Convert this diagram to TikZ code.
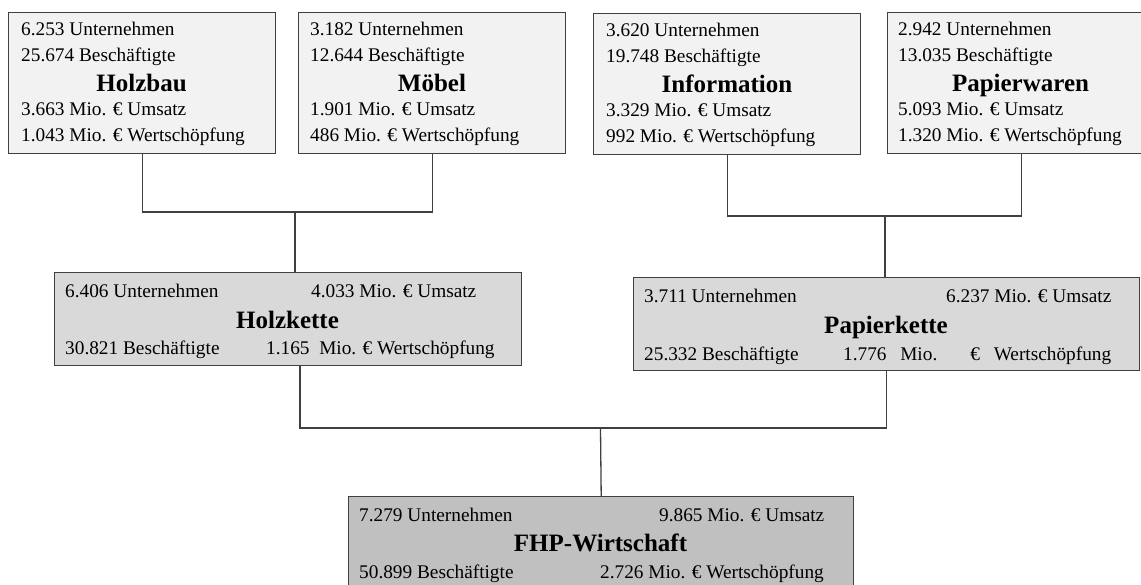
\documentclass[tikz,border=0pt]{standalone}
\usepackage{fontspec}
\setmainfont{Liberation Serif}

\definecolor{boxline}{HTML}{404040}
\definecolor{lightfill}{HTML}{F2F2F2}
\definecolor{midfill}{HTML}{D9D9D9}
\definecolor{darkfill}{HTML}{C0C0C0}

\tikzset{
  box/.style={draw=boxline, line width=1.4pt, inner sep=0pt, anchor=north west},
  topbox/.style={box, fill=lightfill, minimum width=267pt, minimum height=141pt},
  chainbox/.style={box, fill=midfill, minimum height=93pt},
  link/.style={draw=boxline, line width=1.3pt},
  txt/.style={font=\fontsize{19.3pt}{23pt}\selectfont, inner sep=0pt, anchor=base west},
  title/.style={font=\fontsize{25pt}{30pt}\selectfont\bfseries, inner sep=0pt, anchor=base}
}

\begin{document}
\begin{tikzpicture}[x=1pt, y=-1pt]
\clip (0,0) rectangle (1141,585);
\fill[white] (0,0) rectangle (1141,585);

% top row
\node[topbox] (holzbau) at (8,12) {};
\node[topbox] (moebel) at (298,12) {};
\node[topbox] (information) at (593,13) {};
\node[topbox] (papierwaren) at (887,12) {};

\node[txt] (hb1) at (21,35.5) {6.253 Unternehmen};
\node[txt] (hb2) at (21,61.5) {25.674 Beschäftigte};
\node[title] (hbt) at (141.5,91.5) {Holzbau};
\node[txt] (hb3) at (21,115.5) {3.663 Mio. € Umsatz};
\node[txt] (hb4) at (21,141.5) {1.043 Mio. € Wertschöpfung};

\node[txt] (mb1) at (310,35.5) {3.182 Unternehmen};
\node[txt] (mb2) at (310,61.5) {12.644 Beschäftigte};
\node[title] (mbt) at (432,91.5) {Möbel};
\node[txt] (mb3) at (310,115.5) {1.901 Mio. € Umsatz};
\node[txt] (mb4) at (310,141.5) {486 Mio. € Wertschöpfung};

\node[txt] (in1) at (606,36.5) {3.620 Unternehmen};
\node[txt] (in2) at (606,62.5) {19.748 Beschäftigte};
\node[title] (int) at (727,92.5) {Information};
\node[txt] (in3) at (606,116.5) {3.329 Mio. € Umsatz};
\node[txt] (in4) at (606,142.5) {992 Mio. € Wertschöpfung};

\node[txt] (pw1) at (898,35.5) {2.942 Unternehmen};
\node[txt] (pw2) at (898,61.5) {13.035 Beschäftigte};
\node[title] (pwt) at (1020.5,91.5) {Papierwaren};
\node[txt] (pw3) at (898,115.5) {5.093 Mio. € Umsatz};
\node[txt] (pw4) at (898,141.5) {1.320 Mio. € Wertschöpfung};

% chains
\node[chainbox, minimum width=467pt] (holzkette) at (54,272) {};
\node[chainbox, minimum width=506pt] (papierkette) at (633,277) {};

\node[txt] (hk1) at (65,298) {6.406 Unternehmen};
\node[txt] (hk2) at (311,298) {4.033 Mio. € Umsatz};
\node[title] (hkt) at (287.5,328.5) {Holzkette};
\node[txt] (hk3) at (65,355) {30.821 Beschäftigte};
\node[txt] (hk4) at (266,355) {1.165\ \ Mio. € Wertschöpfung};

\node[txt] (pk1) at (644,303) {3.711 Unternehmen};
\node[txt] (pk2) at (946,303) {6.237 Mio. € Umsatz};
\node[title] (pkt) at (886,333.5) {Papierkette};
\node[txt] (pk3) at (644,360) {25.332 Beschäftigte};
\node[txt] (pk4) at (843,360) {\makebox[268pt][s]{1.776 Mio. € Wertschöpfung}};

% total
\node[box, fill=darkfill, minimum width=505pt, minimum height=93pt] (fhp) at (348,496) {};
\node[txt] (fw1) at (359,521.5) {7.279 Unternehmen};
\node[txt] (fw2) at (659,521.5) {9.865 Mio. € Umsatz};
\node[title] (fwt) at (600.5,551.5) {FHP-Wirtschaft};
\node[txt] (fw3) at (359,578.5) {50.899 Beschäftigte};
\node[txt] (fw4) at (600,578.5) {2.726 Mio. € Wertschöpfung};

% connectors
\coordinate (holzjoin) at (295,212);
\coordinate (papjoin) at (885,216);
\coordinate (holzdrop) at (300,428);
\coordinate (fhpjoin) at (600.5,428);
\draw[link] (holzbau.south) |- (holzjoin) -| (moebel.south);
\draw[link] (holzjoin) -- (holzjoin |- holzkette.north);
\draw[link] (information.south) |- (papjoin) -| (papierwaren.south);
\draw[link] (papjoin) -- (papjoin |- papierkette.north);
\draw[link] (holzdrop |- holzkette.south) -- (holzdrop) -| (papierkette.south);
\draw[link] (fhpjoin) -- (fhp.north);
\end{tikzpicture}
\end{document}
